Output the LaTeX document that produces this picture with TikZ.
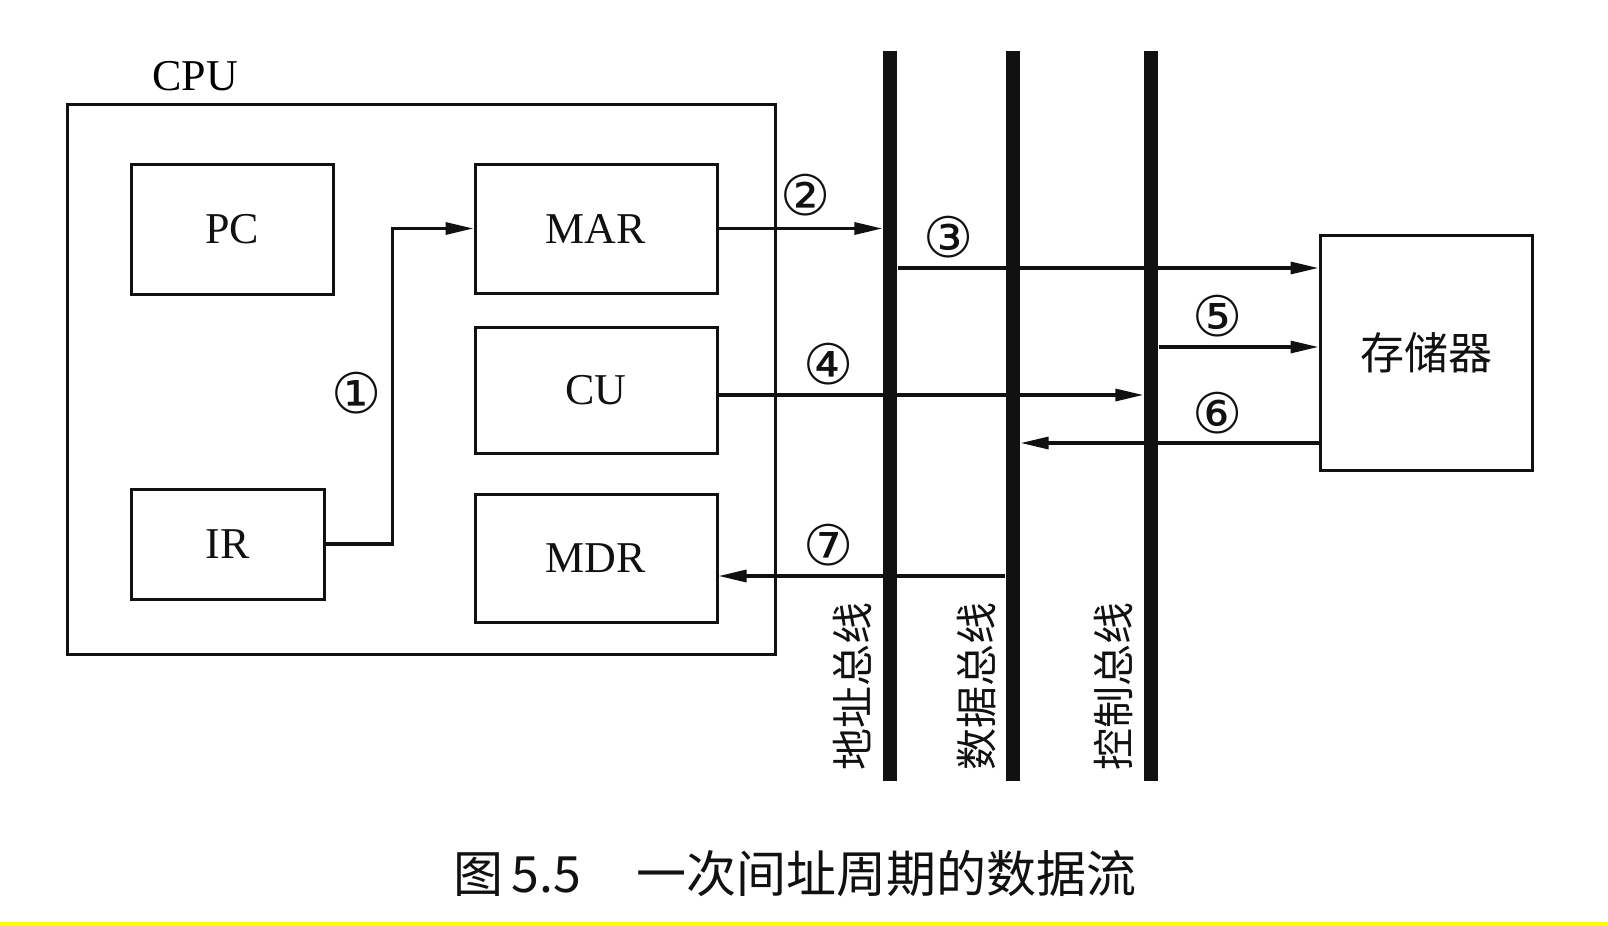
\documentclass[tikz,border=0pt]{standalone}
\usepackage{fontspec}
\setmainfont{Liberation Serif}
\newfontfamily\cjk{Noto Sans CJK SC}
\newfontfamily\circfont{DejaVu Sans}
\usetikzlibrary{arrows.meta}
\definecolor{fgInk}{HTML}{111111}
\definecolor{fgMark}{HTML}{FFFF00}
\tikzset{
  unit/.style={
    draw=fgInk, line width=1.5pt, inner sep=0pt,
    font=\fontsize{22}{24}\selectfont, text=fgInk
  },
  bus/.style={fill=fgInk, minimum width=7.2pt, minimum height=365pt, inner sep=0pt},
  flow/.style={-{Triangle[length=14pt,width=6pt]}, line width=1.6pt, draw=fgInk},
  num/.style={font=\circfont\fontsize{28}{30}\selectfont, inner sep=0pt, text=fgInk},
  blbl/.style={font=\cjk\fontsize{21}{22}\selectfont, rotate=90, inner sep=0pt, text=fgInk},
}

\begin{document}
\begin{tikzpicture}[x=0.5pt, y=-0.5pt]
  \useasboundingbox (0,0) rectangle (1608,926);
  % CPU and its registers
  \node[unit, minimum width=353.8pt, minimum height=274.9pt] (cpu) at (421.5,379.5) {};
  \node[font=\fontsize{22}{24}\selectfont, inner sep=0pt] (cpulbl) at (195,76) {CPU};
  \node[unit, minimum width=101pt, minimum height=65pt] (pc) at (232,229) {PC};
  \node[unit, minimum width=96.5pt, minimum height=55pt] (ir) at (227.5,544) {IR};
  \node[unit, minimum width=121pt, minimum height=64.5pt] (mar) at (596,228.5) {MAR};
  \node[unit, minimum width=121pt, minimum height=63pt] (cu) at (596,390) {CU};
  \node[unit, minimum width=121pt, minimum height=64pt] (mdr) at (596,558) {MDR};
  \node[unit, minimum width=106pt, minimum height=117.5pt, font=\cjk\fontsize{22}{24}\selectfont]
    (mem) at (1426,352.5) {存储器};

  % buses
  \node[bus] (abus) at (890,416.3) {};
  \node[bus] (dbus) at (1013,416.3) {};
  \node[bus] (cbus) at (1151,416.3) {};
  \node[blbl] (albl) at (852,686) {地址总线};
  \node[blbl] (dlbl) at (977,686) {数据总线};
  \node[blbl] (clbl) at (1113,686) {控制总线};

  % data flow
  \draw[flow] (ir.east) -- ++(67,0) |- (mar.west);
  \draw[flow] (mar.east) -- (mar.east -| abus.west);
  \draw[flow] (abus.east |- 0,268) -- (mem.west |- 0,268);
  \draw[flow] ([yshift=-2.5pt]cu.east) -- ([yshift=-2.5pt]cu.east -| cbus.west);
  \draw[flow] (cbus.east |- 0,347) -- (mem.west |- 0,347);
  \draw[flow] (mem.west |- 0,443) -- (dbus.east |- 0,443);
  \draw[flow] (dbus.west |- 0,576) -- (mdr.east |- 0,576);

  \node[num] (n1) at (357,393) {①};
  \node[num] (n2) at (806,195) {②};
  \node[num] (n3) at (949,237) {③};
  \node[num] (n4) at (829,364) {④};
  \node[num] (n5) at (1218,316) {⑤};
  \node[num] (n6) at (1218,413) {⑥};
  \node[num] (n7) at (829,545) {⑦};

  \node[font=\cjk\fontsize{25}{27}\selectfont, inner sep=0pt, text=fgInk] (cap) at (795,874)
    {图\,5.5\hspace{28pt}一次间址周期的数据流};
  \fill[fgMark] (0,922) rectangle (1608,926);
\end{tikzpicture}
\end{document}
